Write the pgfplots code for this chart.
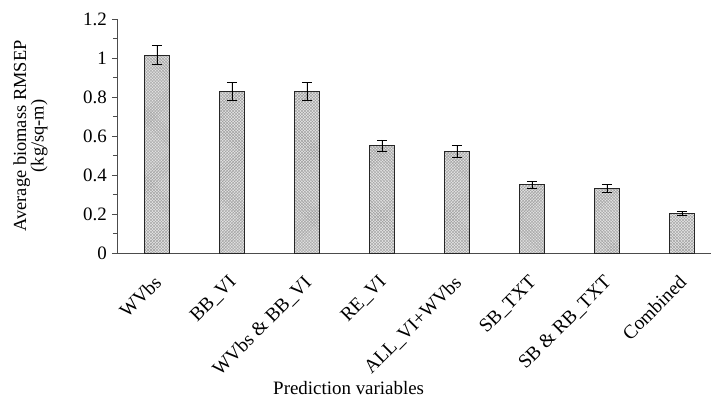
\documentclass[border=0pt]{standalone}
\usepackage{pgfplots}
\pgfplotsset{compat=1.18}
\usepackage{fontspec}
\setmainfont{Liberation Serif}
\usetikzlibrary{patterns}
\begin{document}
\begin{tikzpicture}
\useasboundingbox (-117bp,-145bp) rectangle (594bp,253bp);
\begin{axis}[
  at={(0,0)}, anchor=south west,
  scale only axis, width=594bp, height=234bp,
  xmin=-0.533, xmax=7.387, ymin=0, ymax=1.2,
  axis lines=left, axis line style={black!70, line width=0.9pt, -},
  xtick=data, xtick style={draw=none},
  xticklabels={WVbs, BB\_VI, WVbs \& BB\_VI, RE\_VI, ALL\_VI+WVbs, SB\_TXT, SB \& RB\_TXT, Combined},
  xticklabel style={xshift=-4bp, yshift=-16bp, rotate=45, anchor=north east, inner sep=0pt, font=\fontsize{19.5}{22}\selectfont},
  ytick={0,0.2,...,1.2}, minor y tick num=1,
  tick align=outside, major tick length=5bp, minor tick length=4bp,
  ytick style={black!70, line width=0.8pt},
  yticklabel style={/pgf/number format/fixed, /pgf/number format/assume math mode=true, font=\fontsize{19}{22}\selectfont, inner sep=2pt, xshift=-3bp},
  ylabel={\begin{tabular}{@{}c@{}}Average biomass RMSEP\\(kg/sq-m)\end{tabular}},
  ylabel style={font=\fontsize{18.5}{16}\selectfont, at={(axis description cs:-0.145,0.5)}, anchor=center},
  xlabel={Prediction variables},
  xlabel style={font=\fontsize{19}{22}\selectfont, at={(axis description cs:0.39,-0.577)}, anchor=center},
  clip=false,
]
\addplot[ybar, bar width=25bp, draw=black!85, line width=0.7pt,
  fill=gray!22, postaction={pattern=crosshatch, pattern color=gray!75},
  error bars/.cd, y dir=both, y explicit,
  error bar style={black, line width=0.7pt},
  error mark options={rotate=90, mark size=5bp, line width=0.7pt, black}]
coordinates {
 (0,1.015) +- (0,0.05)
 (1,0.83) +- (0,0.045)
 (2,0.83) +- (0,0.045)
 (3,0.55) +- (0,0.03)
 (4,0.52) +- (0,0.03)
 (5,0.35) +- (0,0.02)
 (6,0.33) +- (0,0.02)
 (7,0.205) +- (0,0.01)
};
\end{axis}
\end{tikzpicture}
\end{document}
